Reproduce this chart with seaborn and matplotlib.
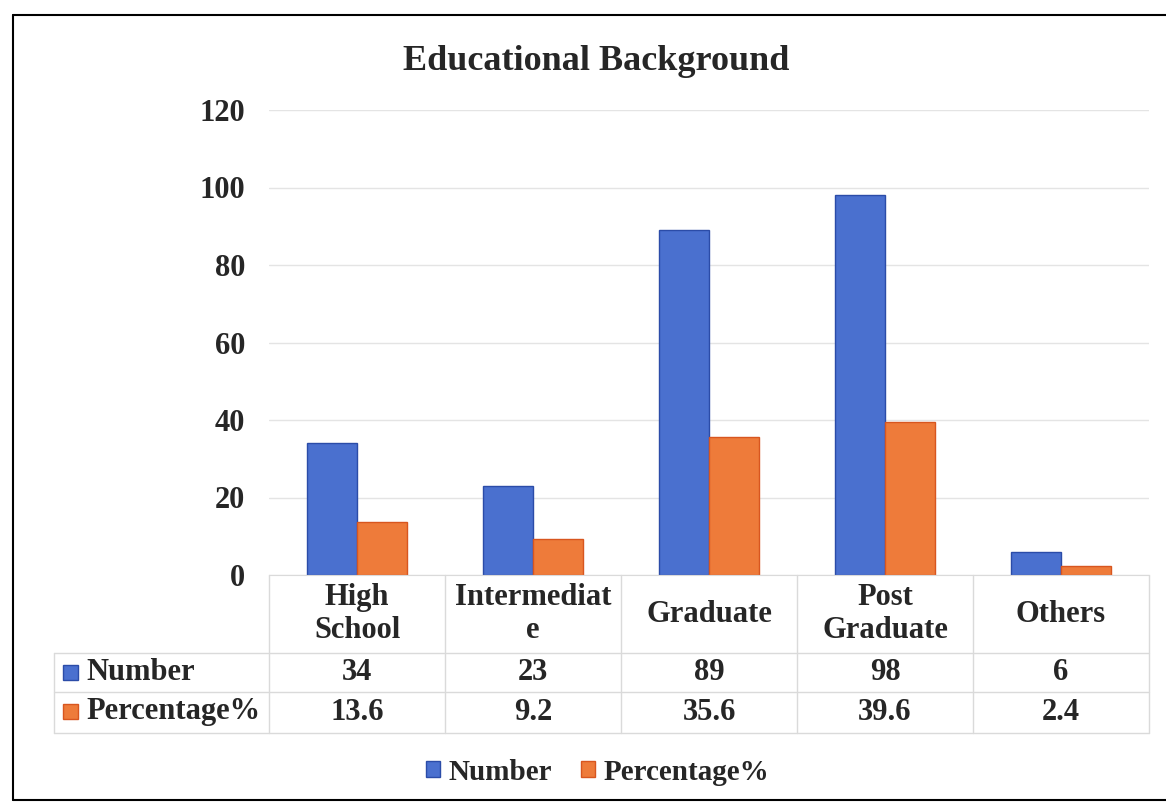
"""
Educational Background chart with data table (Excel style)
"""

import pandas as pd
import matplotlib.pyplot as plt
from matplotlib.patches import Rectangle
from matplotlib.lines import Line2D
import matplotlib.transforms as mtransforms
import seaborn as sns

# data
categories = ['High\nSchool', 'Intermediat\ne', 'Graduate', 'Post\nGraduate', 'Others']
number = [34, 23, 89, 98, 6]
percentage = [13.6, 9.2, 35.6, 39.6, 2.4]
number_labels = ['34', '23', '89', '98', '6']
percentage_labels = ['13.6', '9.2', '35.6', '39.6', '2.4']
series = ['Number', 'Percentage%']
y_ticks = [0, 20, 40, 60, 80, 100, 120]

df = pd.DataFrame({
    'category': categories * 2,
    'series': [series[0]] * len(categories) + [series[1]] * len(categories),
    'value': number + percentage,
})

sns.set_style("white")
plt.rcParams['font.family'] = ['Liberation Serif', 'DejaVu Serif']
plt.rcParams['font.weight'] = 'bold'

blue = '#4A70CF'
orange = '#EE7B3A'
blue_edge = '#2B4CA8'
orange_edge = '#D8561F'

W, H = 1166, 806
fig = plt.figure(figsize=(W / 100, H / 100), dpi=100)

def fx(px):
    return px / W

def fy(py):
    return 1 - py / H

# plot area
ax = fig.add_axes([fx(269), fy(575), fx(1149) - fx(269), fy(110) - fy(575)])
sns.barplot(data=df, x='category', y='value', hue='series', order=categories,
            hue_order=series, palette=[blue, orange], width=0.57,
            saturation=1, ax=ax, legend=False)

for bar, ec in zip(ax.patches, [blue_edge] * 5 + [orange_edge] * 5):
    bar.set_edgecolor(ec)
    bar.set_linewidth(1.0)

ax.set_ylim(0, 120)
ax.set_xlim(-0.5, len(categories) - 0.5)
ax.set_yticks(y_ticks)
ax.set_yticklabels([str(t) for t in y_ticks], fontsize=22, fontweight='bold')
ax.tick_params(axis='y', length=0, pad=17)
ax.set_xticks([])
ax.set_xlabel('')
ax.set_ylabel('')
ax.grid(True, axis='y', color='#E4E4E4', linewidth=1)
ax.set_axisbelow(True)
for s in ['top', 'right', 'left']:
    ax.spines[s].set_visible(False)
ax.spines['bottom'].set_color('#DADADA')

# title centred on the whole chart
fig.text(fx(596), fy(61), 'Educational Background', ha='center', va='center',
         fontsize=26, fontweight='bold')

# data table under the plot
trans = mtransforms.blended_transform_factory(ax.transData, fig.transFigure)
line_kw = dict(color='#DADADA', linewidth=1)

for i, cat in enumerate(categories):
    ax.text(i, fy(614), cat, transform=trans, ha='center', va='center',
            fontsize=22, fontweight='bold', linespacing=1.15, clip_on=False)
    ax.text(i, fy(673), number_labels[i], transform=trans, ha='center',
            va='center', fontsize=22, fontweight='bold', clip_on=False)
    ax.text(i, fy(712), percentage_labels[i], transform=trans, ha='center',
            va='center', fontsize=22, fontweight='bold', clip_on=False)

# table grid lines (pixel positions)
for y in [653, 692, 733]:
    fig.add_artist(Line2D([fx(54), fx(1149)], [fy(y), fy(y)], **line_kw))
fig.add_artist(Line2D([fx(54), fx(54)], [fy(653), fy(733)], **line_kw))
for k in range(len(categories) + 1):
    xk = ax.transData.transform((k - 0.5, 0))[0] / W
    fig.add_artist(Line2D([xk, xk], [fy(575), fy(733)], **line_kw))

# row labels with legend keys
for name, color, ec, y in [(series[0], blue, blue_edge, 673),
                           (series[1], orange, orange_edge, 712)]:
    fig.add_artist(Rectangle((fx(63), fy(y + 7)), fx(15), fy(0) - fy(15),
                             facecolor=color, edgecolor=ec, linewidth=1,
                             transform=fig.transFigure))
    fig.text(fx(86), fy(y), name, ha='left', va='center', fontsize=22,
             fontweight='bold')

# bottom legend
handles = [Rectangle((0, 0), 1, 1, facecolor=blue, edgecolor=blue_edge),
           Rectangle((0, 0), 1, 1, facecolor=orange, edgecolor=orange_edge)]
fig.legend(handles, series, loc='center', bbox_to_anchor=(fx(598), fy(772)),
           ncol=2, frameon=False, handlelength=0.47, handleheight=0.47,
           handletextpad=0.3, columnspacing=1.0,
           prop={'weight': 'bold', 'size': 21})

# outer frame
frame_kw = dict(color='black', linewidth=1.5)
fig.add_artist(Line2D([fx(13), fx(13)], [fy(15), fy(800)], **frame_kw))
fig.add_artist(Line2D([fx(13), 1], [fy(15), fy(15)], **frame_kw))
fig.add_artist(Line2D([fx(13), 1], [fy(800), fy(800)], **frame_kw))

plt.savefig('out.png', dpi=100)
plt.close()
